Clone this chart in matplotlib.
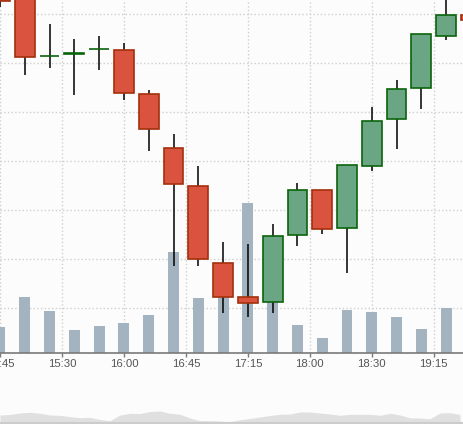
import matplotlib.pyplot as plt

# 15 minute candles, index -1 is 14:45
idx = list(range(-1, 19))
opens  = [77.0, 75.5, 61.4, 61.9, 62.8, 62.6, 53.6, 42.6, 35.0, 19.1, 12.2, 11.3, 24.8, 34.0, 26.4, 38.9, 48.5, 54.8, 65.6, 69.9]
highs  = [79.0, 77.5, 68.0, 64.9, 65.5, 64.1, 54.5, 45.5, 39.0, 23.5, 23.1, 27.1, 35.5, 34.0, 39.1, 51.0, 56.5, 66.0, 75.0, 69.9]
lows   = [71.5, 57.6, 59.0, 53.5, 58.6, 52.5, 42.1, 18.6, 18.6, 9.0, 8.2, 9.0, 22.7, 25.2, 17.2, 38.0, 42.5, 50.7, 64.6, 68.7]
closes = [72.7, 61.3, 61.5, 62.0, 62.9, 53.8, 46.5, 35.4, 19.9, 12.3, 11.0, 24.6, 34.0, 26.2, 39.1, 48.1, 54.6, 66.0, 69.9, 68.7]
volumes = [260, 560, 420, 230, 270, 300, 380, 1010, 550, 700, 1500, 800, 280, 150, 430, 410, 360, 240, 450, 300]

tick_pos = [-1, 1.5, 4, 6.5, 9, 11.5, 14, 16.5]
tick_labels = ['14:45', '15:30', '16:00', '16:45', '17:15', '18:00', '18:30', '19:15']
price_ticks = [10, 20, 30, 40, 50, 60, 70]

# navigator series (overview of the whole range)
nav_x = list(range(0, 470, 10))
nav_values = [8, 8.5, 10, 10.7, 9.7, 8, 7.7, 6.3, 5.3, 5.7, 3.5, 2.3, 8, 9.7, 9.5, 11.5,
              12, 9.7, 8.7, 5, 2.3, 2.3, 2, 1.3, 3.2, 4.5, 6, 7.5, 8.7, 9, 11, 11,
              10, 9, 7.7, 8.7, 8.7, 8.7, 7.7, 9.7, 8, 5.2, 5, 4.3, 10, 10.3, 8.5]

up_face, up_edge = '#6aa584', '#0b640b'
dn_face, dn_edge = '#d9533f', '#a3300c'
bg = '#fcfcfc'

plt.rcParams['font.family'] = ['Liberation Sans', 'DejaVu Sans']
fig = plt.figure(figsize=(4.64, 4.24), dpi=100, facecolor=bg)

plo, phi = 0.816, 72.86
vmax = 3530

# volume axes underneath, price axes on top
ax_vol = fig.add_axes([0, 71 / 424, 1, 353 / 424])
ax = ax_vol.twinx()
ax_vol.set_zorder(1)
ax.set_zorder(2)
ax.patch.set_visible(False)
ax_vol.set_facecolor(bg)

ax_vol.bar(idx, volumes, width=0.44, color='#a3b4c0', zorder=2)
ax_vol.set_ylim(0, vmax)
ax_vol.set_yticks([(p - plo) / (phi - plo) * vmax for p in price_ticks])
ax_vol.grid(True, linestyle=':', color='#cfcfcf', linewidth=1, zorder=0)

# candles
ax.vlines(idx, lows, highs, color='black', linewidth=1.1, zorder=1)
bottoms = [min(o, c) for o, c in zip(opens, closes)]
heights = [max(abs(c - o), 0.12) for o, c in zip(opens, closes)]
faces = [up_face if c >= o else dn_face for o, c in zip(opens, closes)]
edges = [up_edge if c >= o else dn_edge for o, c in zip(opens, closes)]
ax.bar(idx, heights, bottom=bottoms, width=0.8, color=faces, edgecolor=edges, linewidth=1.2, zorder=3)
ax.set_ylim(plo, phi)
ax.set_xlim(-0.84, 17.72)

for a in (ax, ax_vol):
    for s in ['top', 'left', 'right']:
        a.spines[s].set_visible(False)
    a.set_yticks([] if a is ax else a.get_yticks())
    a.tick_params(axis='y', left=False, right=False, labelleft=False, labelright=False)
ax.spines['bottom'].set_visible(False)
ax_vol.spines['bottom'].set_color('#7a7a7a')
ax_vol.spines['bottom'].set_linewidth(1.2)

ax_vol.set_xticks(tick_pos)
ax_vol.set_xticklabels(tick_labels)
ax_vol.tick_params(axis='x', length=3, width=1, color='#7a7a7a', pad=1.5, labelsize=8.2, labelcolor='#555555')
ax.tick_params(axis='x', bottom=False, labelbottom=False)

# navigator at the bottom
nav = fig.add_axes([0, 0, 1, 44 / 424])
nav.set_facecolor(bg)
nav.fill_between(nav_x, 0, nav_values, color='#e0e0e0', linewidth=0)
nav.axhline(0, color='#cccccc', linewidth=1.5)
nav.set_xlim(0, 464)
nav.set_ylim(-1, 43)
nav.axis('off')

plt.savefig('out.png', dpi=100, facecolor=bg)
